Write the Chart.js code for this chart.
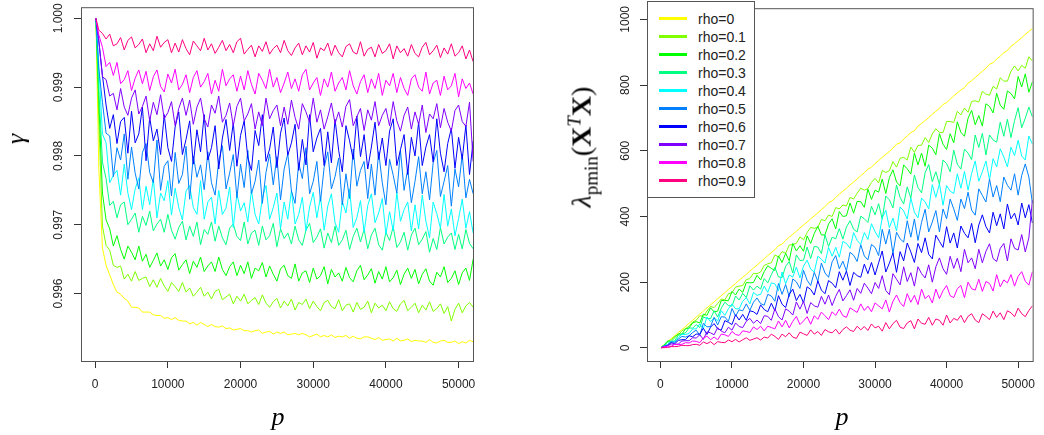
<!DOCTYPE html>
<html>
<head>
<meta charset="utf-8">
<script src="https://cdn.jsdelivr.net/npm/chart.js@4.4.1/dist/chart.umd.min.js"></script>
<style>
  body { margin: 0; background: #fff; }
  #wrap { position: relative; width: 1044px; height: 435px; overflow: hidden; }
  canvas { position: absolute; top: 0; }
  .axis-title { position: absolute; white-space: nowrap; transform: translate(-50%, -50%); font-family: "Liberation Serif", serif; color: #000; }
  .rot { transform: translate(-50%, -50%) rotate(-90deg); }
  #legend { position: absolute; left: 647px; top: 1px; width: 108px; height: 197px; box-sizing: border-box; border: 1px solid #555; background: #fff; font-family: "Liberation Sans", Arial, sans-serif; font-size: 14px; }
  #legend .row { position: absolute; left: 0; height: 18px; width: 100%; }
  #legend .swatch { position: absolute; left: 11px; top: 7px; width: 28px; height: 3px; }
  #legend .txt { position: absolute; left: 50px; top: 0; line-height: 18px; color: #222; }
</style>
</head>
<body>
<div id="wrap">
  <canvas id="gammaChart" width="522" height="435" style="left:0"></canvas>
  <canvas id="lambdaChart" width="522" height="435" style="left:522px"></canvas>
  <div class="axis-title rot" style="left:16px; top:139px; font-size:26px; font-style:italic">γ</div>
  <div class="axis-title" style="left:278px; top:417px; font-size:26px; font-style:italic">p</div>
  <div class="axis-title" style="left:842px; top:417px; font-size:26px; font-style:italic">p</div>
  <div class="axis-title rot" style="left:583px; top:147px; font-size:28px"><i>λ</i><sub style="font-size:19px">pmin</sub>(<b>X</b><sup style="font-size:19px"><i>T</i></sup><b>X</b>)</div>
  <div id="legend"></div>
</div>
<script>
const rhoLabels = ["rho=0", "rho=0.1", "rho=0.2", "rho=0.3", "rho=0.4", "rho=0.5", "rho=0.6", "rho=0.7", "rho=0.8", "rho=0.9"]
const rhoColors = ["#FFFF00", "#80FF00", "#00FF00", "#00FF80", "#00FFFF", "#0080FF", "#0000FF", "#8000FF", "#FF00FF", "#FF0080"]

const xTicks = [0, 10000, 20000, 30000, 40000, 50000]
const gammaTicks = [0.996, 0.997, 0.998, 0.999, 1.000]
const lambdaTicks = [0, 200, 400, 600, 800, 1000]

const pValues = [
  100, 500, 1000, 1500, 2000, 2500, 3000, 3500, 4000, 4500, 5000, 5500, 6000, 6500, 7000,
  7500, 8000, 8500, 9000, 9500, 10000, 10500, 11000, 11500, 12000, 12500, 13000, 13500, 14000, 14500,
  15000, 15500, 16000, 16500, 17000, 17500, 18000, 18500, 19000, 19500, 20000, 20500, 21000, 21500, 22000,
  22500, 23000, 23500, 24000, 24500, 25000, 25500, 26000, 26500, 27000, 27500, 28000, 28500, 29000, 29500,
  30000, 30500, 31000, 31500, 32000, 32500, 33000, 33500, 34000, 34500, 35000, 35500, 36000, 36500, 37000,
  37500, 38000, 38500, 39000, 39500, 40000, 40500, 41000, 41500, 42000, 42500, 43000, 43500, 44000, 44500,
  45000, 45500, 46000, 46500, 47000, 47500, 48000, 48500, 49000, 49500, 50000, 50500, 51000, 51500, 52000,
]

// gamma, one array per rho
const gamma00 = [
  1, 0.99782, 0.99666, 0.99641, 0.99627, 0.99613, 0.99602, 0.99599, 0.99593, 0.99589, 0.99580, 0.99580, 0.99579, 0.99573, 0.99573,
  0.99573, 0.99569, 0.99568, 0.99568, 0.99564, 0.99565, 0.99562, 0.99565, 0.99561, 0.99560, 0.99560, 0.99556, 0.99558, 0.99554, 0.99558,
  0.99555, 0.99552, 0.99555, 0.99552, 0.99551, 0.99553, 0.99549, 0.99550, 0.99547, 0.99548, 0.99549, 0.99546, 0.99546, 0.99544, 0.99546,
  0.99547, 0.99542, 0.99544, 0.99545, 0.99541, 0.99544, 0.99542, 0.99544, 0.99540, 0.99541, 0.99542, 0.99540, 0.99542, 0.99540, 0.99537,
  0.99539, 0.99541, 0.99537, 0.99539, 0.99537, 0.99540, 0.99536, 0.99538, 0.99537, 0.99539, 0.99535, 0.99538, 0.99535, 0.99534, 0.99537,
  0.99537, 0.99535, 0.99533, 0.99536, 0.99532, 0.99533, 0.99534, 0.99531, 0.99535, 0.99531, 0.99532, 0.99534, 0.99530, 0.99532, 0.99531,
  0.99531, 0.99529, 0.99533, 0.99529, 0.99528, 0.99531, 0.99532, 0.99529, 0.99529, 0.99531, 0.99527, 0.99530, 0.99528, 0.99532, 0.99530,
]
const gamma01 = [
  1, 0.99852, 0.99698, 0.99670, 0.99663, 0.99641, 0.99638, 0.99640, 0.99621, 0.99628, 0.99618, 0.99632, 0.99619, 0.99622, 0.99624,
  0.99610, 0.99620, 0.99609, 0.99622, 0.99611, 0.99603, 0.99616, 0.99610, 0.99603, 0.99616, 0.99602, 0.99608, 0.99596, 0.99602, 0.99609,
  0.99596, 0.99602, 0.99592, 0.99603, 0.99606, 0.99591, 0.99595, 0.99599, 0.99585, 0.99596, 0.99589, 0.99599, 0.99585, 0.99590, 0.99594,
  0.99584, 0.99598, 0.99586, 0.99580, 0.99588, 0.99593, 0.99579, 0.99589, 0.99582, 0.99592, 0.99576, 0.99587, 0.99584, 0.99592, 0.99578,
  0.99589, 0.99581, 0.99575, 0.99587, 0.99590, 0.99581, 0.99578, 0.99591, 0.99575, 0.99583, 0.99585, 0.99573, 0.99587, 0.99577, 0.99580,
  0.99589, 0.99572, 0.99586, 0.99579, 0.99583, 0.99575, 0.99588, 0.99578, 0.99574, 0.99585, 0.99590, 0.99575, 0.99580, 0.99586, 0.99572,
  0.99583, 0.99576, 0.99588, 0.99574, 0.99578, 0.99585, 0.99571, 0.99581, 0.99560, 0.99577, 0.99586, 0.99572, 0.99582, 0.99587, 0.99580,
]
const gamma02 = [
  1, 0.99882, 0.99746, 0.99707, 0.99694, 0.99669, 0.99684, 0.99664, 0.99650, 0.99669, 0.99660, 0.99649, 0.99669, 0.99647, 0.99657,
  0.99638, 0.99648, 0.99659, 0.99640, 0.99649, 0.99635, 0.99652, 0.99658, 0.99634, 0.99642, 0.99649, 0.99629, 0.99647, 0.99638, 0.99653,
  0.99632, 0.99640, 0.99646, 0.99632, 0.99653, 0.99635, 0.99626, 0.99639, 0.99646, 0.99626, 0.99641, 0.99629, 0.99646, 0.99622, 0.99637,
  0.99633, 0.99645, 0.99624, 0.99640, 0.99628, 0.99618, 0.99636, 0.99641, 0.99626, 0.99622, 0.99643, 0.99618, 0.99630, 0.99633, 0.99616,
  0.99637, 0.99621, 0.99626, 0.99639, 0.99614, 0.99635, 0.99624, 0.99630, 0.99618, 0.99638, 0.99623, 0.99617, 0.99633, 0.99641, 0.99620,
  0.99627, 0.99636, 0.99615, 0.99632, 0.99621, 0.99639, 0.99617, 0.99623, 0.99634, 0.99613, 0.99628, 0.99637, 0.99622, 0.99635, 0.99614,
  0.99628, 0.99636, 0.99618, 0.99612, 0.99631, 0.99624, 0.99639, 0.99616, 0.99622, 0.99633, 0.99613, 0.99630, 0.99637, 0.99619, 0.99650,
]
const gamma03 = [
  1, 0.99897, 0.99791, 0.99767, 0.99728, 0.99734, 0.99710, 0.99729, 0.99733, 0.99700, 0.99708, 0.99717, 0.99689, 0.99712, 0.99699,
  0.99720, 0.99691, 0.99701, 0.99708, 0.99689, 0.99715, 0.99692, 0.99679, 0.99696, 0.99705, 0.99678, 0.99698, 0.99683, 0.99704, 0.99671,
  0.99693, 0.99686, 0.99704, 0.99676, 0.99698, 0.99681, 0.99671, 0.99695, 0.99701, 0.99683, 0.99677, 0.99704, 0.99672, 0.99688, 0.99692,
  0.99670, 0.99698, 0.99678, 0.99684, 0.99702, 0.99668, 0.99694, 0.99680, 0.99688, 0.99672, 0.99698, 0.99678, 0.99670, 0.99692, 0.99702,
  0.99674, 0.99682, 0.99694, 0.99666, 0.99688, 0.99674, 0.99698, 0.99670, 0.99678, 0.99692, 0.99664, 0.99683, 0.99695, 0.99675, 0.99693,
  0.99665, 0.99685, 0.99695, 0.99671, 0.99663, 0.99689, 0.99677, 0.99697, 0.99667, 0.99675, 0.99689, 0.99663, 0.99685, 0.99695, 0.99671,
  0.99679, 0.99690, 0.99660, 0.99680, 0.99664, 0.99696, 0.99672, 0.99682, 0.99688, 0.99664, 0.99686, 0.99665, 0.99693, 0.99673, 0.99665,
]
const gamma04 = [
  1, 0.99931, 0.99832, 0.99819, 0.99761, 0.99772, 0.99779, 0.99743, 0.99788, 0.99746, 0.99722, 0.99752, 0.99768, 0.99722, 0.99756,
  0.99729, 0.99767, 0.99710, 0.99746, 0.99735, 0.99764, 0.99714, 0.99753, 0.99725, 0.99707, 0.99749, 0.99757, 0.99725, 0.99715, 0.99764,
  0.99708, 0.99733, 0.99740, 0.99701, 0.99750, 0.99715, 0.99724, 0.99755, 0.99696, 0.99745, 0.99720, 0.99732, 0.99704, 0.99750, 0.99715,
  0.99701, 0.99739, 0.99757, 0.99708, 0.99725, 0.99746, 0.99694, 0.99733, 0.99708, 0.99750, 0.99701, 0.99715, 0.99740, 0.99691, 0.99726,
  0.99747, 0.99710, 0.99741, 0.99692, 0.99727, 0.99745, 0.99703, 0.99689, 0.99734, 0.99717, 0.99752, 0.99696, 0.99710, 0.99735, 0.99689,
  0.99728, 0.99745, 0.99703, 0.99717, 0.99738, 0.99686, 0.99719, 0.99691, 0.99747, 0.99705, 0.99722, 0.99733, 0.99691, 0.99729, 0.99694,
  0.99743, 0.99705, 0.99681, 0.99733, 0.99716, 0.99695, 0.99744, 0.99698, 0.99723, 0.99684, 0.99709, 0.99737, 0.99695, 0.99719, 0.99688,
]
const gamma05 = [
  1, 0.99927, 0.99878, 0.99833, 0.99829, 0.99770, 0.99812, 0.99794, 0.99832, 0.99766, 0.99813, 0.99775, 0.99752, 0.99805, 0.99818,
  0.99776, 0.99761, 0.99823, 0.99750, 0.99785, 0.99793, 0.99742, 0.99805, 0.99760, 0.99773, 0.99814, 0.99737, 0.99800, 0.99769, 0.99787,
  0.99751, 0.99806, 0.99761, 0.99743, 0.99793, 0.99815, 0.99752, 0.99775, 0.99802, 0.99739, 0.99788, 0.99754, 0.99808, 0.99745, 0.99763,
  0.99794, 0.99731, 0.99776, 0.99803, 0.99758, 0.99799, 0.99736, 0.99781, 0.99803, 0.99749, 0.99731, 0.99790, 0.99767, 0.99812, 0.99745,
  0.99763, 0.99792, 0.99734, 0.99783, 0.99806, 0.99752, 0.99770, 0.99797, 0.99729, 0.99774, 0.99738, 0.99810, 0.99756, 0.99779, 0.99792,
  0.99738, 0.99788, 0.99743, 0.99806, 0.99761, 0.99729, 0.99795, 0.99772, 0.99746, 0.99808, 0.99750, 0.99781, 0.99732, 0.99763, 0.99799,
  0.99745, 0.99777, 0.99736, 0.99790, 0.99808, 0.99741, 0.99763, 0.99786, 0.99727, 0.99781, 0.99755, 0.99802, 0.99739, 0.99766, 0.99745,
]
const gamma06 = [
  1, 0.99967, 0.99917, 0.99874, 0.99840, 0.99860, 0.99818, 0.99850, 0.99856, 0.99804, 0.99865, 0.99819, 0.99832, 0.99871, 0.99793,
  0.99856, 0.99822, 0.99839, 0.99802, 0.99860, 0.99812, 0.99792, 0.99842, 0.99864, 0.99802, 0.99824, 0.99851, 0.99788, 0.99838, 0.99806,
  0.99860, 0.99794, 0.99812, 0.99844, 0.99781, 0.99826, 0.99853, 0.99808, 0.99848, 0.99785, 0.99830, 0.99851, 0.99797, 0.99779, 0.99837,
  0.99815, 0.99860, 0.99792, 0.99810, 0.99842, 0.99783, 0.99833, 0.99855, 0.99801, 0.99819, 0.99846, 0.99779, 0.99824, 0.99787, 0.99860,
  0.99806, 0.99826, 0.99840, 0.99786, 0.99835, 0.99790, 0.99853, 0.99808, 0.99777, 0.99844, 0.99822, 0.99795, 0.99858, 0.99799, 0.99831,
  0.99781, 0.99813, 0.99849, 0.99795, 0.99826, 0.99786, 0.99836, 0.99854, 0.99786, 0.99809, 0.99831, 0.99773, 0.99827, 0.99800, 0.99849,
  0.99786, 0.99813, 0.99831, 0.99791, 0.99854, 0.99804, 0.99777, 0.99818, 0.99840, 0.99782, 0.99827, 0.99795, 0.99845, 0.99773, 0.99822,
]
const gamma07 = [
  1, 0.99968, 0.99915, 0.99911, 0.99887, 0.99891, 0.99867, 0.99898, 0.99871, 0.99859, 0.99884, 0.99896, 0.99861, 0.99872, 0.99887,
  0.99851, 0.99878, 0.99860, 0.99889, 0.99854, 0.99863, 0.99879, 0.99844, 0.99869, 0.99884, 0.99859, 0.99881, 0.99846, 0.99871, 0.99884,
  0.99854, 0.99842, 0.99874, 0.99862, 0.99887, 0.99849, 0.99859, 0.99877, 0.99844, 0.99872, 0.99884, 0.99851, 0.99861, 0.99876, 0.99839,
  0.99864, 0.99844, 0.99884, 0.99854, 0.99866, 0.99874, 0.99844, 0.99871, 0.99846, 0.99881, 0.99856, 0.99839, 0.99876, 0.99864, 0.99849,
  0.99884, 0.99849, 0.99867, 0.99839, 0.99857, 0.99877, 0.99847, 0.99864, 0.99842, 0.99872, 0.99882, 0.99844, 0.99857, 0.99869, 0.99837,
  0.99867, 0.99852, 0.99879, 0.99844, 0.99859, 0.99869, 0.99844, 0.99879, 0.99851, 0.99836, 0.99859, 0.99871, 0.99839, 0.99864, 0.99846,
  0.99874, 0.99834, 0.99861, 0.99854, 0.99876, 0.99841, 0.99869, 0.99849, 0.99836, 0.99866, 0.99874, 0.99850, 0.99843, 0.99878, 0.99792,
]
const gamma08 = [
  1, 0.99976, 0.99958, 0.99930, 0.99936, 0.99917, 0.99936, 0.99905, 0.99911, 0.99924, 0.99895, 0.99913, 0.99925, 0.99905, 0.99923,
  0.99895, 0.99915, 0.99925, 0.99901, 0.99893, 0.99919, 0.99906, 0.99926, 0.99896, 0.99904, 0.99918, 0.99892, 0.99914, 0.99924, 0.99900,
  0.99908, 0.99920, 0.99890, 0.99910, 0.99894, 0.99926, 0.99902, 0.99912, 0.99918, 0.99894, 0.99916, 0.99896, 0.99924, 0.99904, 0.99890,
  0.99920, 0.99910, 0.99898, 0.99926, 0.99900, 0.99914, 0.99892, 0.99906, 0.99922, 0.99898, 0.99912, 0.99894, 0.99918, 0.99926, 0.99896,
  0.99906, 0.99914, 0.99888, 0.99912, 0.99900, 0.99922, 0.99894, 0.99906, 0.99914, 0.99896, 0.99924, 0.99902, 0.99890, 0.99908, 0.99918,
  0.99892, 0.99912, 0.99898, 0.99920, 0.99888, 0.99910, 0.99902, 0.99920, 0.99892, 0.99914, 0.99898, 0.99888, 0.99912, 0.99918, 0.99900,
  0.99894, 0.99922, 0.99890, 0.99906, 0.99910, 0.99888, 0.99916, 0.99896, 0.99902, 0.99920, 0.99886, 0.99912, 0.99898, 0.99906, 0.99890,
]
const gamma09 = [
  1, 0.99983, 0.99978, 0.99970, 0.99977, 0.99960, 0.99963, 0.99972, 0.99954, 0.99968, 0.99973, 0.99957, 0.99962, 0.99970, 0.99950,
  0.99963, 0.99953, 0.99974, 0.99958, 0.99965, 0.99969, 0.99950, 0.99964, 0.99951, 0.99969, 0.99956, 0.99947, 0.99967, 0.99960, 0.99953,
  0.99971, 0.99954, 0.99963, 0.99949, 0.99958, 0.99968, 0.99953, 0.99962, 0.99950, 0.99966, 0.99971, 0.99948, 0.99955, 0.99961, 0.99944,
  0.99960, 0.99952, 0.99966, 0.99948, 0.99956, 0.99961, 0.99950, 0.99968, 0.99953, 0.99946, 0.99957, 0.99964, 0.99947, 0.99960, 0.99951,
  0.99965, 0.99942, 0.99957, 0.99953, 0.99964, 0.99946, 0.99961, 0.99950, 0.99944, 0.99959, 0.99963, 0.99951, 0.99948, 0.99966, 0.99945,
  0.99955, 0.99958, 0.99944, 0.99962, 0.99949, 0.99953, 0.99963, 0.99941, 0.99960, 0.99950, 0.99956, 0.99945, 0.99962, 0.99949, 0.99944,
  0.99958, 0.99965, 0.99947, 0.99953, 0.99961, 0.99943, 0.99957, 0.99948, 0.99963, 0.99945, 0.99950, 0.99960, 0.99941, 0.99954, 0.99937,
]

// lambda_pmin(X'X), one array per rho
const lambda00 = [
  2, 9, 19, 28, 37, 47, 56, 65, 75, 84, 94, 103, 112, 122, 131,
  140, 150, 159, 168, 178, 187, 196, 206, 215, 224, 234, 243, 252, 262, 271,
  281, 290, 299, 311, 316, 327, 337, 346, 355, 365, 374, 383, 393, 402, 411,
  421, 430, 442, 447, 458, 468, 477, 486, 496, 505, 514, 524, 533, 544, 550,
  561, 570, 580, 589, 598, 608, 620, 624, 636, 645, 655, 661, 675, 683, 692,
  701, 711, 720, 729, 741, 746, 757, 767, 776, 785, 792, 806, 813, 823, 832,
  842, 851, 863, 868, 879, 888, 898, 905, 918, 926, 935, 944, 954, 963, 972,
]
const lambda01 = [
  2, 7, 20, 25, 36, 40, 52, 59, 66, 79, 84, 98, 96, 112, 126,
  123, 135, 149, 146, 165, 168, 185, 188, 190, 208, 211, 227, 226, 231, 251,
  256, 259, 283, 277, 293, 288, 313, 315, 318, 338, 329, 351, 367, 364, 367,
  391, 387, 404, 400, 427, 423, 435, 432, 458, 453, 471, 486, 480, 485, 504,
  516, 502, 540, 534, 539, 567, 550, 577, 580, 572, 611, 595, 616, 617, 640,
  625, 651, 667, 656, 655, 689, 689, 686, 720, 709, 730, 717, 750, 752, 748,
  781, 772, 769, 796, 788, 822, 812, 812, 842, 858, 843, 860, 851, 886, 873,
]
const lambda02 = [
  2, 9, 21, 20, 31, 43, 42, 58, 61, 76, 80, 76, 103, 99, 122,
  110, 112, 144, 144, 144, 172, 161, 179, 169, 199, 198, 199, 221, 207, 232,
  250, 242, 236, 280, 260, 288, 265, 318, 295, 311, 294, 341, 318, 348, 370,
  344, 344, 377, 393, 362, 415, 400, 402, 441, 410, 446, 445, 428, 483, 452,
  480, 474, 514, 470, 518, 542, 505, 493, 557, 545, 529, 593, 557, 593, 553,
  617, 608, 588, 652, 620, 604, 652, 624, 688, 656, 644, 699, 723, 679, 707,
  675, 743, 735, 715, 775, 739, 726, 782, 774, 758, 826, 794, 834, 778, 810,
]
const lambda03 = [
  1, 6, 18, 18, 22, 38, 42, 46, 61, 60, 71, 62, 94, 90, 89,
  113, 94, 121, 139, 129, 127, 158, 146, 166, 153, 189, 176, 188, 179, 211,
  198, 223, 245, 216, 214, 248, 263, 228, 283, 266, 267, 307, 272, 309, 307,
  287, 344, 309, 337, 332, 363, 331, 368, 387, 361, 353, 401, 393, 382, 431,
  405, 439, 392, 462, 451, 426, 496, 458, 438, 490, 456, 526, 488, 472, 533,
  558, 506, 536, 498, 572, 561, 536, 602, 559, 544, 605, 593, 573, 648, 610,
  653, 587, 648, 633, 626, 687, 644, 696, 640, 692, 731, 670, 699, 733, 703,
]
const lambda04 = [
  1, 6, 10, 21, 19, 31, 41, 41, 44, 58, 58, 73, 59, 94, 80,
  92, 82, 113, 99, 119, 134, 119, 119, 142, 153, 134, 169, 160, 163, 188,
  169, 198, 195, 174, 231, 195, 222, 216, 246, 213, 249, 267, 240, 231, 279,
  270, 258, 306, 279, 306, 276, 324, 318, 303, 351, 327, 315, 351, 330, 378,
  354, 335, 395, 419, 366, 395, 356, 429, 417, 392, 456, 413, 396, 456, 444,
  423, 497, 458, 500, 434, 494, 477, 470, 530, 486, 537, 480, 531, 569, 507,
  536, 569, 512, 576, 551, 606, 581, 551, 611, 585, 632, 584, 572, 645, 620,
]
const lambda05 = [
  1, 6, 9, 19, 17, 27, 35, 33, 37, 47, 54, 38, 75, 64, 65,
  93, 70, 95, 94, 81, 120, 97, 116, 113, 134, 114, 139, 152, 135, 130,
  163, 158, 142, 196, 163, 193, 156, 210, 201, 181, 236, 206, 190, 230, 203,
  258, 228, 215, 262, 281, 241, 264, 234, 291, 282, 263, 314, 280, 268, 315,
  306, 281, 361, 316, 361, 287, 352, 332, 322, 387, 337, 392, 327, 382, 422,
  353, 383, 418, 353, 423, 393, 453, 423, 388, 453, 424, 474, 419, 404, 484,
  464, 444, 514, 459, 494, 445, 520, 495, 480, 530, 465, 525, 560, 520, 440,
]
const lambda06 = [
  1, 4, 7, 16, 13, 23, 25, 25, 37, 34, 42, 42, 60, 41, 63,
  74, 58, 54, 83, 78, 71, 101, 85, 102, 84, 113, 110, 102, 131, 117,
  110, 136, 113, 159, 133, 123, 163, 179, 144, 163, 137, 186, 178, 161, 204,
  176, 165, 205, 197, 183, 232, 206, 234, 190, 230, 220, 215, 255, 226, 260,
  222, 259, 295, 231, 258, 289, 230, 293, 265, 319, 292, 260, 318, 290, 335,
  285, 271, 343, 324, 306, 369, 319, 350, 304, 371, 349, 335, 379, 320, 374,
  405, 369, 350, 413, 372, 408, 362, 438, 393, 410, 374, 441, 396, 436, 380,
]
const lambda07 = [
  1, 2, 7, 12, 11, 12, 21, 22, 22, 31, 30, 40, 26, 49, 46,
  40, 62, 51, 46, 63, 54, 76, 65, 62, 81, 90, 75, 85, 74, 98,
  96, 84, 119, 95, 85, 119, 112, 100, 140, 118, 142, 105, 138, 128, 124,
  157, 133, 161, 129, 157, 178, 143, 159, 177, 145, 181, 166, 197, 182, 165,
  199, 181, 220, 175, 162, 226, 209, 192, 247, 202, 229, 188, 247, 226, 213,
  253, 200, 247, 274, 241, 224, 279, 242, 273, 232, 300, 259, 274, 241, 300,
  259, 294, 317, 272, 263, 303, 318, 265, 332, 303, 298, 345, 292, 335, 450,
]
const lambda08 = [
  0, 4, 5, 5, 11, 10, 11, 16, 15, 21, 20, 16, 30, 36, 25,
  33, 25, 42, 40, 35, 50, 41, 38, 52, 50, 47, 64, 56, 66, 52,
  66, 62, 58, 82, 64, 84, 61, 81, 96, 71, 82, 95, 72, 98, 87,
  109, 98, 86, 110, 99, 118, 98, 93, 122, 115, 108, 134, 114, 127, 110,
  137, 128, 119, 146, 109, 142, 161, 138, 126, 165, 139, 160, 132, 179, 150,
  160, 137, 179, 150, 174, 190, 159, 153, 180, 190, 153, 200, 180, 176, 209,
  172, 202, 196, 173, 223, 186, 207, 198, 223, 188, 218, 232, 203, 191, 232,
]
const lambda09 = [
  0, 1, 1, 4, 4, 5, 8, 7, 7, 10, 11, 8, 18, 13, 19,
  10, 19, 17, 16, 24, 19, 26, 18, 25, 31, 23, 27, 31, 24, 33,
  30, 42, 35, 26, 42, 34, 46, 33, 29, 48, 43, 38, 55, 42, 50,
  38, 56, 49, 46, 57, 42, 56, 64, 54, 50, 66, 55, 65, 53, 73,
  61, 66, 51, 77, 58, 74, 84, 63, 59, 76, 83, 58, 88, 75, 72,
  93, 69, 88, 84, 69, 100, 76, 90, 84, 99, 77, 96, 104, 85, 77,
  104, 96, 86, 112, 93, 107, 86, 113, 107, 95, 121, 104, 95, 114, 128,
]

const gammaSeries = [gamma00, gamma01, gamma02, gamma03, gamma04, gamma05, gamma06, gamma07, gamma08, gamma09]
const lambdaSeries = [lambda00, lambda01, lambda02, lambda03, lambda04, lambda05, lambda06, lambda07, lambda08, lambda09]

Chart.defaults.font.family = "'Liberation Sans', Arial, sans-serif"
Chart.defaults.font.size = 12
Chart.defaults.color = "#222"

// R style frame round the plot region
const boxPlugin = {
  id: "box",
  afterDraw(chart) {
    const { ctx, chartArea: a } = chart
    ctx.save()
    ctx.strokeStyle = "#555"
    ctx.lineWidth = 1
    ctx.strokeRect(a.left + 0.5, a.top + 0.5, a.right - a.left, a.bottom - a.top)
    ctx.restore()
  },
}

const makePanel = (id, series, cfg) => {
  const ctx = document.getElementById(id).getContext("2d")
  const datasets = series.map((vals, i) => ({
    label: rhoLabels[i],
    data: pValues.map((p, j) => ({ x: p, y: vals[j] })),
    borderColor: rhoColors[i],
    borderWidth: 1,
    pointRadius: 0,
    tension: 0,
    order: series.length - i, // rho=0.9 ends up on top, as in matplot
  }))
  const tickGrid = { drawOnChartArea: false, drawTicks: true, tickLength: 7, color: "#333" }
  return new Chart(ctx, {
    type: "line",
    data: { datasets },
    plugins: [boxPlugin],
    options: {
      responsive: false,
      animation: false,
      events: [],
      layout: {
        padding: { left: cfg.left - 50, right: 522 - cfg.right, top: 2, bottom: 435 - 361 - 40 },
      },
      plugins: { legend: { display: false }, tooltip: { enabled: false } },
      scales: {
        x: {
          type: "linear",
          min: cfg.xMin,
          max: cfg.xMax,
          grid: tickGrid,
          border: { display: false },
          afterBuildTicks: (s) => { s.ticks = xTicks.map((v) => ({ value: v })) },
          afterFit: (s) => { s.height = 40 },
          ticks: { autoSkip: false, maxRotation: 0, padding: 9, callback: (v) => String(v) },
        },
        y: {
          type: "linear",
          min: cfg.yMin,
          max: cfg.yMax,
          grid: tickGrid,
          border: { display: false },
          afterBuildTicks: (s) => { s.ticks = cfg.yTicks.map((v) => ({ value: v })) },
          afterFit: (s) => { s.width = 50 },
          ticks: {
            autoSkip: false,
            minRotation: 90,
            maxRotation: 90,
            crossAlign: "center",
            padding: cfg.yPad,
            callback: cfg.fmt,
          },
        },
      },
    },
  })
}

makePanel("gammaChart", gammaSeries, {
  left: 81, right: 473,
  xMin: -1950, xMax: 51980,
  yMin: 0.995019, yMax: 1.000162,
  yTicks: gammaTicks, yPad: 0,
  fmt: (v) => v.toFixed(3),
})

makePanel("lambdaChart", lambdaSeries, {
  left: 125, right: 517,
  xMin: -1880, xMax: 52030,
  yMin: -39.8, yMax: 1033.8,
  yTicks: lambdaTicks, yPad: 1,
  fmt: (v) => String(v),
})

// legend box, top left of the right panel
const legend = document.getElementById("legend")
rhoLabels.forEach((label, i) => {
  const row = document.createElement("div")
  row.className = "row"
  row.style.top = (8 + 18 * i) + "px"
  row.innerHTML = `<span class="swatch" style="background:${rhoColors[i]}"></span><span class="txt">${label}</span>`
  legend.appendChild(row)
})
</script>
</body>
</html>
